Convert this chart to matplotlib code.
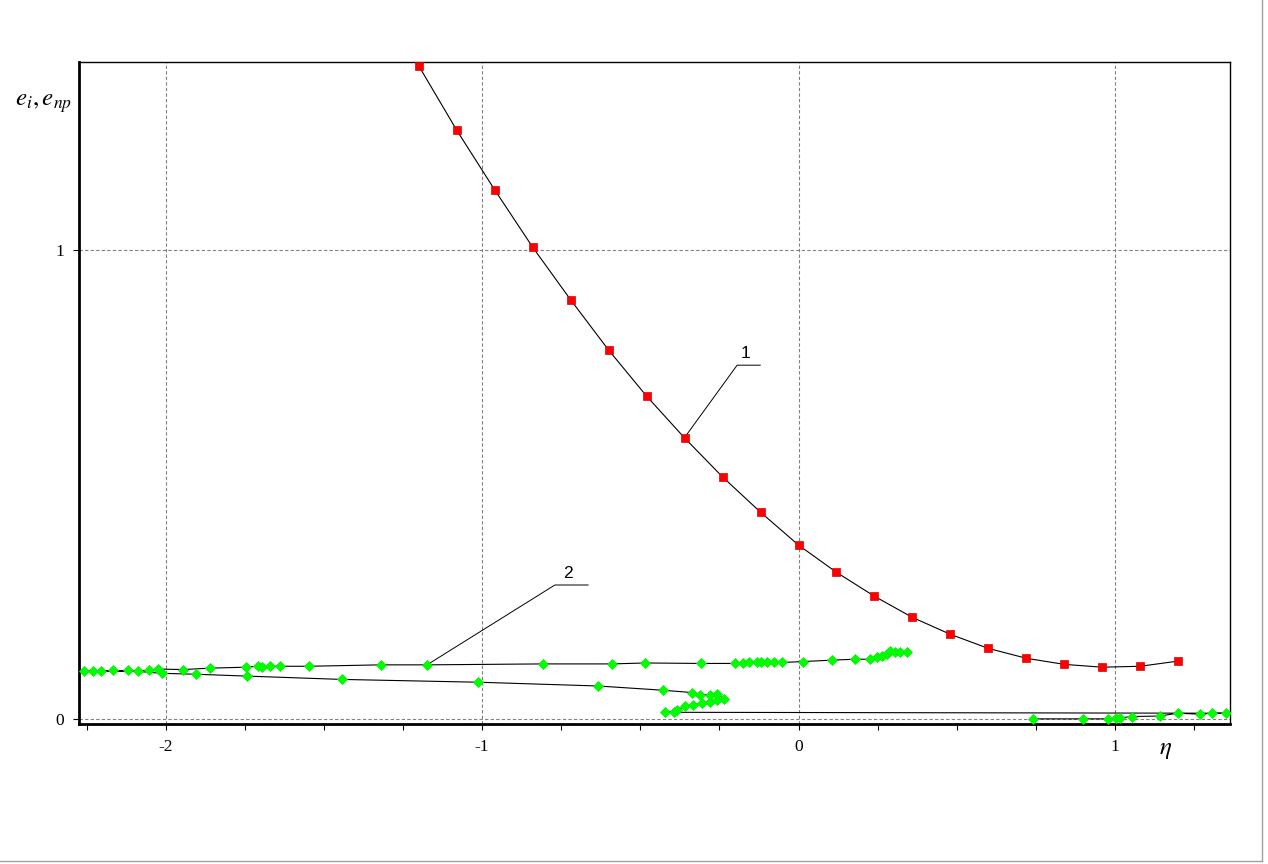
import matplotlib
matplotlib.use('Agg')
import matplotlib.pyplot as plt
from matplotlib.ticker import MultipleLocator
from matplotlib.lines import Line2D

plt.rcParams['mathtext.fontset'] = 'stix'

# curve 1 (red squares)
eta_1 = [-1.20, -1.08, -0.96, -0.84, -0.72, -0.60, -0.48, -0.36, -0.24, -0.12, 0.00,
         0.12, 0.24, 0.36, 0.48, 0.60, 0.72, 0.84, 0.96, 1.08, 1.20]
e_1 = [1.391, 1.254, 1.127, 1.005, 0.893, 0.786, 0.688, 0.599, 0.516, 0.441, 0.371,
       0.313, 0.262, 0.217, 0.181, 0.151, 0.130, 0.117, 0.111, 0.113, 0.124]

# curve 2 (green diamonds), one trajectory
eta_2 = [0.741, 0.898, 0.977, 1.004, 1.017, 1.054, 1.141, 1.198, 1.270, 1.308, 1.350,
         -0.421, -0.395, -0.383, -0.358, -0.333, -0.305, -0.279, -0.257, -0.237,
         -0.257, -0.279, -0.311, -0.336, -0.429,
         -0.634, -1.012, -1.444, -1.742, -1.904, -2.013, -2.087, -2.205, -2.259,
         -2.229, -2.166, -2.118, -2.052, -2.023, -1.944, -1.860, -1.747, -1.709,
         -1.695, -1.670, -1.640, -1.546, -1.320, -1.173, -0.808, -0.588, -0.485,
         -0.309, -0.202, -0.174, -0.158, -0.132, -0.119, -0.100, -0.076, -0.052,
         0.013, 0.105, 0.179, 0.227, 0.249, 0.264, 0.279, 0.290, 0.306, 0.322, 0.343]
e_2 = [0.001, 0.001, 0.001, 0.002, 0.003, 0.006, 0.007, 0.013, 0.011, 0.013, 0.013,
       0.015, 0.016, 0.020, 0.028, 0.030, 0.035, 0.037, 0.041, 0.043,
       0.055, 0.052, 0.052, 0.057, 0.062,
       0.071, 0.079, 0.085, 0.092, 0.096, 0.098, 0.102, 0.102, 0.103,
       0.103, 0.104, 0.104, 0.104, 0.107, 0.106, 0.109, 0.111, 0.113,
       0.111, 0.113, 0.113, 0.113, 0.116, 0.116, 0.118, 0.118, 0.120,
       0.119, 0.119, 0.119, 0.121, 0.121, 0.121, 0.121, 0.121, 0.121,
       0.123, 0.126, 0.128, 0.128, 0.132, 0.135, 0.140, 0.145, 0.144, 0.144, 0.144]

x_major = [-2, -1, 0, 1]
y_major = [0, 1]

fig = plt.figure(figsize=(12.68, 8.64), dpi=100)
ax = fig.add_axes([0.0623, 0.162, 0.9078, 0.766])

ax.plot(eta_1, e_1, color='black', lw=0.8, marker='s', ms=5.4,
        mfc='#ff0000', mec='#dd0000', mew=0.5, zorder=3)
ax.plot(eta_2, e_2, color='black', lw=0.8, marker='D', ms=5.6,
        mfc='#00ff00', mec='#00ee00', mew=0.5, zorder=3)

ax.set_xlim(-2.274, 1.364)
ax.set_ylim(-0.010, 1.399)

ax.set_xticks(x_major)
ax.set_xticklabels(['-2', '-1', '0', '1'])
ax.set_yticks(y_major)
ax.set_yticklabels(['0', '1'])
ax.xaxis.set_minor_locator(MultipleLocator(0.25))
ax.tick_params(which='both', direction='out', length=4, width=0.8)
ax.tick_params(which='major', labelsize=12.5, pad=7)
for lab in ax.get_xticklabels() + ax.get_yticklabels():
    lab.set_fontfamily('Liberation Serif')

ax.grid(True, which='major', color='#808080', ls=(0, (3, 2)), lw=0.8)
for sp in ax.spines.values():
    sp.set_linewidth(1.0)
ax.spines['left'].set_linewidth(2)
ax.spines['bottom'].set_linewidth(2)

# leader lines and labels
ax.plot([-0.361, -0.194, -0.121], [0.599, 0.754, 0.754], color='black', lw=0.7)
ax.text(-0.169, 0.762, '1', fontsize=12.5, ha='center', va='bottom', family='Liberation Sans')
ax.plot([-1.174, -0.770, -0.665], [0.116, 0.286, 0.286], color='black', lw=0.7)
ax.text(-0.728, 0.294, '2', fontsize=12.5, ha='center', va='bottom', family='Liberation Sans')

fig.text(0.012, 0.878, r'$e_i, e_{np}$', fontsize=18)
fig.text(0.914, 0.127, r'$\eta$', fontsize=18)

# window frame edges
fig.add_artist(Line2D([0.9955, 0.9955], [0.003, 1], color='#a0a0a0', lw=1))
fig.add_artist(Line2D([0, 0.9955], [0.003, 0.003], color='#a0a0a0', lw=1))

fig.savefig('out.png', dpi=100)
